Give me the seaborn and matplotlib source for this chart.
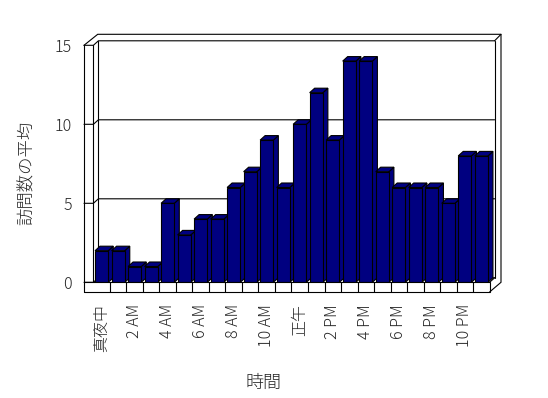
import matplotlib
matplotlib.use("Agg")
import matplotlib.pyplot as plt
import numpy as np
import pandas as pd
import seaborn as sns
from matplotlib.patches import Polygon
from matplotlib.lines import Line2D

# ---- data ----
hours = ["真夜中", "1 AM", "2 AM", "3 AM", "4 AM", "5 AM", "6 AM", "7 AM",
         "8 AM", "9 AM", "10 AM", "11 AM", "正午", "1 PM", "2 PM", "3 PM",
         "4 PM", "5 PM", "6 PM", "7 PM", "8 PM", "9 PM", "10 PM", "11 PM"]
visits = [2, 2, 1, 1, 5, 3, 4, 4, 6, 7, 9, 6, 10, 12, 9, 14, 14, 7, 6, 6, 6, 5, 8, 8]
y_ticks = [0, 5, 10, 15]
x_tick_labels = hours[::2]
x_title = "時間"
y_title = "訪問数の平均"

sns.set_theme(style="white")
plt.rcParams["font.family"] = ["Noto Sans CJK JP", "DejaVu Sans"]
plt.rcParams["font.weight"] = "light"
plt.rcParams["axes.labelweight"] = "light"

W, H = 548, 398
fig = plt.figure(figsize=(W / 100, H / 100), dpi=100)
fig.patch.set_facecolor("white")
ax = fig.add_axes([93.4 / W, (H - 282.3) / H, 396.2 / W, 237.0 / H])

df = pd.DataFrame({x_title: hours, y_title: visits})
sns.barplot(data=df, x=x_title, y=y_title, order=hours, color="#000080",
            saturation=1, width=0.8, edgecolor="black", linewidth=0.8,
            errorbar=None, ax=ax)
ax.set_xlim(-0.5, len(hours) - 0.5)
ax.set_ylim(0, 15)
ax.set_facecolor("none")
for s in ax.spines.values():
    s.set_visible(False)

# pixel -> data scale
p0 = ax.transData.transform((0, 0))
p1 = ax.transData.transform((1, 1))
sx = 1.0 / (p1[0] - p0[0])
sy = 1.0 / (p1[1] - p0[1])

def P(x, y, dxp=0.0, dyp=0.0):
    return (x + dxp * sx, y + dyp * sy)

DX, DY = 5.0, 4.5      # depth (px)
LW, FL = 9.4, 9.7      # left wall / floor thickness (px)
X0, X1 = ax.get_xlim()
Y0, Y1 = ax.get_ylim()
lw = 0.8

def line(pts, z=1):
    xs, ys = zip(*pts)
    ax.add_line(Line2D(xs, ys, color="black", lw=lw, zorder=z, clip_on=False,
                       solid_joinstyle="miter"))

# gridlines / walls
for v in y_ticks:
    line([P(X0, v, -LW), P(X0, v), P(X0, v, DX, DY), P(X1, v, DX, DY)])
line([P(X0, Y1, -LW), P(X0, Y0, -LW, -FL)])
line([P(X0, Y1), P(X0, Y0)])
line([P(X0, Y1, DX, DY), P(X0, Y0, DX, DY)])
line([P(X1, Y1, DX, DY), P(X1, Y0, DX, DY)])
line([P(X0, Y1, -LW), P(X0, Y1, 4.3, 11), P(X1, Y1, 11.4, 11),
      P(X1, Y0, 11.4, 0), P(X1, Y0, 0, -FL)])
line([P(X1, Y1, DX, DY), P(X1, Y1, 11.4, 11)])
# floor
line([P(X0, Y0, -LW, -FL), P(X1, Y0, 0, -FL), P(X1, Y0), P(X0, Y0, -LW)], z=60)
line([P(X1, Y0), P(X1, Y0, DX, DY)])
for k in range(1, len(hours)):
    line([P(k - 0.5, Y0), P(k - 0.5, Y0, 0, -FL)], z=60)

# 3D bar faces
for k, p in enumerate(ax.patches):
    x0, w, h = p.get_x(), p.get_width(), p.get_height()
    p.set_zorder(10 + 2 * k + 1)
    side = Polygon([P(x0 + w, 0), P(x0 + w, 0, DX, DY), P(x0 + w, h, DX, DY), P(x0 + w, h)],
                   closed=True, facecolor="#000080", edgecolor="black", lw=lw,
                   zorder=10 + 2 * k, clip_on=False)
    top = Polygon([P(x0, h), P(x0 + w, h), P(x0 + w, h, DX, DY), P(x0, h, DX, DY)],
                  closed=True, facecolor="#000080", edgecolor="black", lw=lw,
                  zorder=10 + 2 * k, clip_on=False)
    ax.add_patch(side)
    ax.add_patch(top)

# ticks and labels
ax.set_yticks(y_ticks)
ax.set_yticklabels([str(v) for v in y_ticks], fontsize=11.5)
ax.set_xticks(range(0, len(hours), 2))
ax.set_xticklabels(x_tick_labels, rotation=90, fontsize=11.5)
ax.tick_params(axis="both", length=0)
ax.tick_params(axis="y", pad=15.4)
ax.tick_params(axis="x", pad=15.6)

ax.set_xlabel(x_title, fontsize=13, fontweight="light")
ax.xaxis.set_label_coords(0.43, -0.423)
ax.xaxis.label.set_va("center")
ax.set_ylabel(y_title, fontsize=12.5, fontweight="light")
ax.yaxis.set_label_coords(-0.1676, 0.461)
ax.yaxis.label.set_va("center")

fig.savefig("out.png", dpi=100, facecolor="white")
